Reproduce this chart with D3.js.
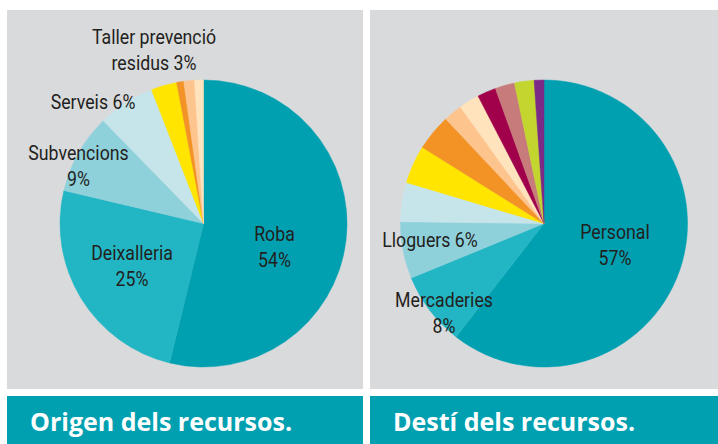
<!DOCTYPE html>
<html>
<head>
<meta charset="utf-8">
<script src="https://cdn.jsdelivr.net/npm/d3@7"></script>
<style>
  html, body { margin: 0; padding: 0; background: #ffffff; }
  svg { display: block; }
  .lbl { font-family: "Roboto", "Liberation Sans", sans-serif; font-size: 20.5px; fill: #231f20; }
  .title { font-family: "Open Sans", "DejaVu Sans", sans-serif; font-weight: 700; font-size: 25px; fill: #ffffff; }
</style>
</head>
<body>
<svg id="chart" width="718" height="444"></svg>
<script>
// ---- data: Origen dels recursos (left) ----
const originCategories = ["Roba", "Deixalleria", "Subvencions", "Serveis", "Taller prevenció residus", "Altres 1", "Altres 2", "Altres 3"];
const originValues = [53.8, 24.9, 9.0, 6.4, 2.9, 0.8, 1.2, 1.0];
const originColors = ["#00a0b1", "#22b6c4", "#8fd1db", "#c6e5eb", "#ffe500", "#f39325", "#fdc48e", "#ffe3bc"];
const originLabels = [
  ["Roba", "54%"],
  ["Deixalleria", "25%"],
  ["Subvencions", "9%"],
  ["Serveis 6%"],
  ["Taller prevenció", "residus 3%"],
  null, null, null
];

// ---- data: Destí dels recursos (right) ----
const destCategories = ["Personal", "Mercaderies", "Lloguers", "Altres 1", "Altres 2", "Altres 3", "Altres 4", "Altres 5", "Altres 6", "Altres 7", "Altres 8", "Altres 9"];
const destValues = [60.5, 8.3, 6.4, 4.4, 4.3, 4.1, 2.1, 2.3, 2.1, 2.2, 2.2, 1.1];
const destColors = ["#00a0b1", "#22b6c4", "#8fd1db", "#c6e5eb", "#ffe500", "#f39325", "#fdc48e", "#ffe3bc", "#a1004a", "#c87b7b", "#c2d62f", "#7b2a86"];
const destLabels = [
  ["Personal", "57%"],
  ["Mercaderies", "8%"],
  ["Lloguers 6%"],
  null, null, null, null, null, null, null, null, null
];

const titles = ["Origen dels recursos.", "Destí dels recursos."];

// ---- layout (positions/styles, not data) ----
const panels = [
  { x: 7, w: 356, cx: 203.5, cy: 223.5, r: 143.5,
    labelPos: [[71, 17.5], [-71.5, 36.5], [-125, -63.5], [-110.5, -114.5], [-49.5, -180], null, null, null] },
  { x: 370, w: 348, cx: 544, cy: 223.5, r: 143.5,
    labelPos: [[71, 15.5], [-100, 83.5], [-114, 23], null, null, null, null, null, null, null, null, null] }
];
const lineGap = 26.5;
const condense = 0.865;

const svg = d3.select("#chart");

function drawPie(panel, values, colors, labels, title) {
  svg.append("rect").attr("x", panel.x).attr("y", 10).attr("width", panel.w).attr("height", 379).attr("fill", "#d9dadc");
  svg.append("rect").attr("x", panel.x).attr("y", 396).attr("width", panel.w).attr("height", 48).attr("fill", "#00a0b1");
  svg.append("text").attr("class", "title").attr("x", panel.x + 23).attr("y", 430.5).text(title);

  const pie = d3.pie().sort(null).value(d => d);
  const arc = d3.arc().innerRadius(0).outerRadius(panel.r);
  const g = svg.append("g").attr("transform", `translate(${panel.cx},${panel.cy})`);
  const arcs = pie(values);
  g.selectAll("path").data(arcs).join("path")
    .attr("d", arc)
    .attr("fill", (d, i) => colors[i])
    .attr("stroke", (d, i) => colors[i])
    .attr("stroke-width", 0.5);

  arcs.forEach((d, i) => {
    const lines = labels[i];
    const pos = panel.labelPos[i];
    if (!lines || !pos) return;
    const lg = g.append("g").attr("transform", `translate(${pos[0]},${pos[1]}) scale(${condense},1)`);
    const t = lg.append("text").attr("class", "lbl").attr("text-anchor", "middle");
    lines.forEach((ln, k) => {
      t.append("tspan").attr("x", 0).attr("y", k * lineGap).text(ln);
    });
  });
}

drawPie(panels[0], originValues, originColors, originLabels, titles[0]);
drawPie(panels[1], destValues, destColors, destLabels, titles[1]);
</script>
</body>
</html>
